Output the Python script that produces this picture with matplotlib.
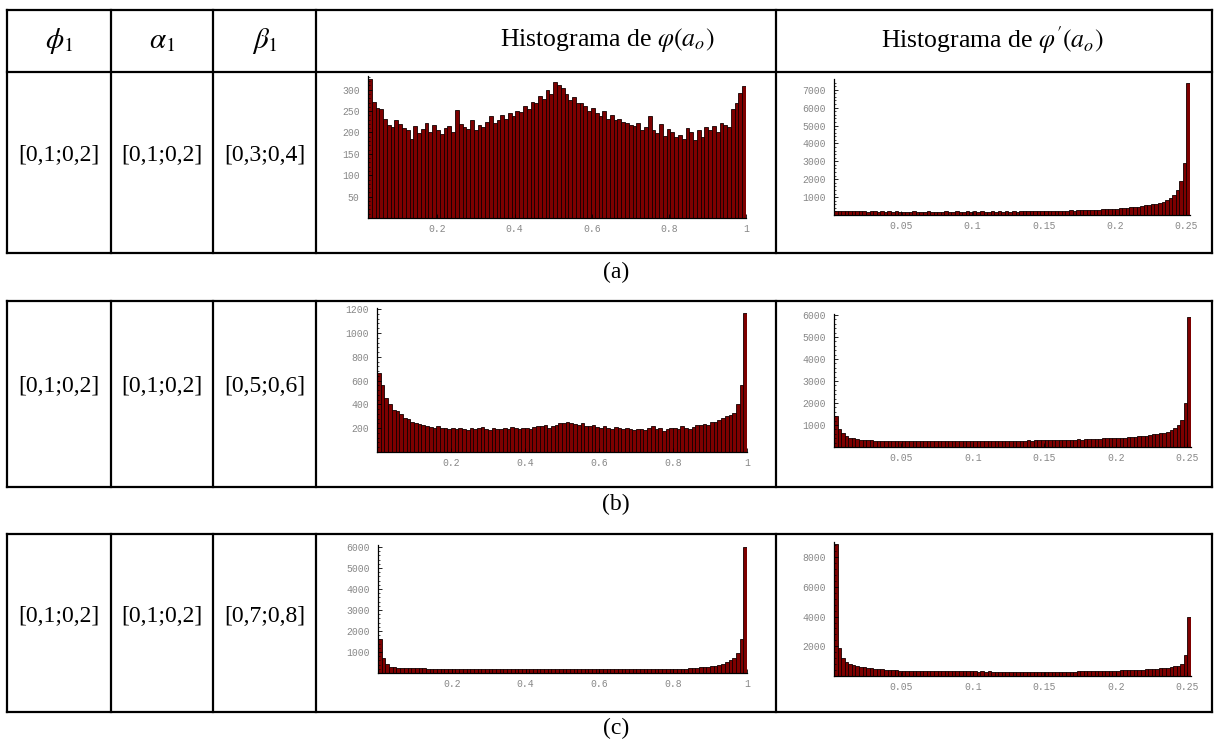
import numpy as np
import matplotlib
matplotlib.use("Agg")
import matplotlib.pyplot as plt
from matplotlib.lines import Line2D

plt.rcParams['mathtext.fontset'] = 'stix'

# ---- table contents ----
row_labels = ['(a)', '(b)', '(c)']
phi1 = ['[0,1;0,2]', '[0,1;0,2]', '[0,1;0,2]']
alpha1 = ['[0,1;0,2]', '[0,1;0,2]', '[0,1;0,2]']
beta1 = ['[0,3;0,4]', '[0,5;0,6]', '[0,7;0,8]']
headers = [r'$\phi_1$', r'$\alpha_1$', r'$\beta_1$',
           r'Histograma de $\varphi\left(a_o\right)$',
           r"Histograma de $\varphi'\left(a_o\right)$"]

# ---- histogram counts (100 bins each) ----
range_phi_a = (0.02, 1.0)
range_phi = (0.0, 1.0)
range_dphi = (0.003, 0.2525)

hist_phi_a = [325, 272, 258, 255, 232, 218, 212, 228, 220, 210,
              205, 185, 214, 198, 208, 222, 200, 218, 205, 196,
              210, 215, 200, 252, 220, 212, 208, 228, 205, 218,
              212, 225, 238, 222, 228, 240, 232, 245, 238, 250,
              248, 262, 255, 272, 268, 285, 278, 300, 290, 318,
              312, 305, 290, 275, 282, 270, 268, 262, 250, 258,
              245, 238, 250, 232, 240, 228, 232, 225, 222, 218,
              214, 222, 205, 212, 238, 205, 198, 220, 192, 208,
              200, 190, 195, 185, 210, 200, 182, 205, 190, 212,
              205, 215, 200, 222, 218, 212, 255, 268, 292, 308]
hist_dphi_a = [240, 225, 230, 215, 220, 200, 225, 205, 215, 195,
               205, 200, 190, 205, 185, 210, 190, 200, 195, 185,
               195, 180, 200, 185, 190, 180, 205, 185, 190, 195,
               180, 200, 185, 190, 205, 185, 195, 200, 180, 205,
               190, 200, 195, 185, 210, 190, 200, 195, 205, 195,
               200, 195, 210, 200, 205, 215, 205, 220, 215, 220,
               230, 225, 240, 235, 250, 245, 255, 250, 265, 270,
               275, 290, 285, 300, 305, 315, 320, 330, 340, 355,
               370, 385, 400, 420, 450, 470, 500, 540, 570, 600,
               630, 680, 740, 820, 950, 1100, 1400, 1900, 2900, 7400]
hist_phi_b = [660, 560, 450, 405, 355, 345, 320, 285, 275, 250,
              245, 235, 228, 218, 210, 205, 215, 200, 205, 195,
              205, 190, 200, 195, 185, 205, 190, 200, 212, 195,
              185, 200, 195, 190, 205, 195, 210, 200, 190, 205,
              200, 195, 210, 220, 215, 230, 205, 215, 225, 240,
              245, 255, 240, 235, 225, 240, 220, 215, 225, 210,
              205, 215, 200, 195, 210, 205, 190, 200, 195, 185,
              190, 195, 185, 200, 215, 190, 205, 180, 195, 200,
              205, 195, 215, 200, 190, 210, 225, 230, 235, 225,
              250, 255, 270, 285, 300, 310, 330, 400, 560, 1170]
hist_dphi_b = [1400, 800, 620, 500, 430, 390, 360, 335, 320, 310,
               300, 280, 290, 275, 270, 280, 265, 275, 270, 280,
               265, 275, 270, 260, 275, 265, 270, 260, 270, 275,
               265, 270, 260, 275, 265, 270, 265, 275, 270, 260,
               275, 270, 280, 265, 275, 285, 280, 290, 285, 295,
               290, 285, 295, 290, 300, 295, 305, 300, 310, 305,
               300, 310, 305, 320, 315, 330, 335, 340, 345, 340,
               350, 355, 360, 370, 375, 390, 395, 400, 405, 415,
               420, 430, 440, 455, 470, 490, 500, 520, 540, 570,
               600, 620, 650, 680, 760, 850, 1000, 1250, 2000, 5900]
hist_phi_c = [1620, 700, 420, 300, 280, 260, 250, 245, 240, 230,
              225, 220, 215, 210, 205, 208, 200, 205, 198, 195,
              205, 195, 200, 190, 198, 192, 200, 188, 195, 190,
              185, 195, 190, 188, 195, 185, 192, 190, 186, 195,
              190, 185, 192, 188, 195, 185, 190, 188, 192, 186,
              190, 195, 185, 192, 188, 195, 185, 190, 186, 192,
              188, 185, 192, 186, 190, 185, 188, 192, 185, 190,
              186, 192, 188, 185, 190, 195, 188, 192, 198, 195,
              195, 200, 205, 210, 215, 240, 260, 280, 290, 300,
              320, 340, 380, 430, 520, 600, 700, 950, 1600, 6000]
hist_dphi_c = [8900, 1900, 1200, 950, 800, 720, 650, 600, 580, 560,
               520, 490, 470, 450, 430, 400, 390, 380, 370, 365,
               360, 355, 370, 350, 360, 345, 355, 350, 340, 360,
               345, 335, 350, 340, 330, 345, 325, 335, 320, 310,
               300, 310, 295, 305, 290, 300, 285, 295, 290, 280,
               290, 285, 280, 295, 285, 280, 290, 285, 280, 295,
               285, 290, 295, 285, 300, 290, 295, 300, 310, 305,
               315, 310, 320, 330, 325, 340, 350, 345, 360, 370,
               380, 375, 390, 400, 410, 405, 420, 440, 460, 480,
               500, 510, 530, 560, 600, 650, 700, 800, 1400, 3970]

phi_xticks = [0.2, 0.4, 0.6, 0.8, 1.0]
phi_xlabels = ['0.2', '0.4', '0.6', '0.8', '1']
dphi_xticks = [0.05, 0.1, 0.15, 0.2, 0.25]
dphi_xlabels = ['0.05', '0.1', '0.15', '0.2', '0.25']

W, H = 1217, 740
fig = plt.figure(figsize=(W / 100, H / 100), dpi=100)


def hline(y, x0, x1):
    fig.add_artist(Line2D([x0 / W, x1 / W], [1 - y / H, 1 - y / H],
                          transform=fig.transFigure, color='black', lw=1.6))


def vline(x, y0, y1):
    fig.add_artist(Line2D([x / W, x / W], [1 - y0 / H, 1 - y1 / H],
                          transform=fig.transFigure, color='black', lw=1.6))


def ftext(x, y, s, size=17, **kw):
    fig.text(x / W, 1 - y / H, s, ha='center', va='center', fontsize=size,
             family='Liberation Serif', **kw)


def histo(box, counts, xr, ylim, yticks, xticks, xlabels):
    l, t, r, b = box
    ax = fig.add_axes([l / W, 1 - b / H, (r - l) / W, (b - t) / H])
    edges = np.linspace(xr[0], xr[1], len(counts) + 1)
    ax.bar(edges[:-1], counts, width=np.diff(edges), align='edge',
           color='#7e0000', edgecolor='#120000', linewidth=0.6)
    ax.set_xlim(xr)
    ax.set_ylim(ylim)
    ax.set_xticks(xticks)
    ax.set_xticklabels(xlabels)
    ax.set_yticks(yticks)
    ax.set_yticklabels([str(v) for v in yticks])
    step = yticks[1] - yticks[0]
    ax.set_yticks(np.arange(0, ylim[1], step / 5), minor=True)
    for s in ['top', 'right']:
        ax.spines[s].set_visible(False)
    for s in ['left', 'bottom']:
        ax.spines[s].set_linewidth(0.9)
    ax.tick_params(axis='both', which='major', direction='in', length=3,
                   width=0.6, labelsize=7, labelcolor='#888888')
    ax.tick_params(axis='y', which='minor', direction='in', length=1.5,
                   width=0.5)
    ax.tick_params(axis='y', pad=6)
    ax.tick_params(axis='x', pad=4)
    for lab in ax.get_xticklabels() + ax.get_yticklabels():
        lab.set_family('Liberation Mono')
    return ax


# ---- table (a), (b), (c) ----
left, right = 7, 1212
cols = [111, 213, 316, 776]
tables = [(10, 253), (301, 487), (534, 712)]
label_y = [272, 504, 728]
centers = [59, 162, 264.5, 607, 992]

# header row only in table (a)
top, bottom = tables[0]
header_y = 72
hline(top, left, right)
hline(header_y, left, right)
hline(bottom, left, right)
for x in [left] + cols + [right]:
    vline(x, top, bottom)
for cx, h in zip(centers[:3], headers[:3]):
    ftext(cx, 41, h, size=21)
for cx, h in zip(centers[3:], headers[3:]):
    ftext(cx, 40, h, size=18.5)

for t, b in tables[1:]:
    hline(t, left, right)
    hline(b, left, right)
    for x in [left] + cols + [right]:
        vline(x, t, b)

row_tops = [header_y, tables[1][0], tables[2][0]]
row_bots = [tables[0][1], tables[1][1], tables[2][1]]
for i in range(3):
    yc = (row_tops[i] + row_bots[i]) / 2 - 7
    ftext(centers[0], yc, phi1[i])
    ftext(centers[1], yc, alpha1[i])
    ftext(centers[2], yc, beta1[i])
    ftext(616, label_y[i], row_labels[i])

# ---- histograms ----
histo((368, 76, 746, 218), hist_phi_a, range_phi_a, (0, 332),
      [50, 100, 150, 200, 250, 300], phi_xticks, phi_xlabels)
histo((834, 79, 1190, 215), hist_dphi_a, range_dphi, (0, 7600),
      [1000, 2000, 3000, 4000, 5000, 6000, 7000], dphi_xticks, dphi_xlabels)
histo((377, 308, 747, 452), hist_phi_b, range_phi, (0, 1210),
      [200, 400, 600, 800, 1000, 1200], phi_xticks, phi_xlabels)
histo((834, 314, 1191, 447), hist_dphi_b, range_dphi, (0, 6050),
      [1000, 2000, 3000, 4000, 5000, 6000], dphi_xticks, dphi_xlabels)
histo((378, 545, 747, 673), hist_phi_c, range_phi, (0, 6100),
      [1000, 2000, 3000, 4000, 5000, 6000], phi_xticks, phi_xlabels)
histo((834, 542, 1191, 676), hist_dphi_c, range_dphi, (0, 9020),
      [2000, 4000, 6000, 8000], dphi_xticks, dphi_xlabels)

fig.savefig('out.png', dpi=100)
